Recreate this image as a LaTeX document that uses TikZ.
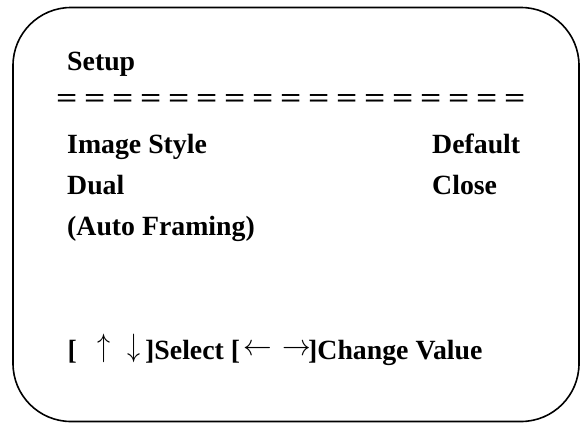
\documentclass[tikz,border=0pt]{standalone}
\usepackage{fontspec}
\usepackage{graphicx}
\setmainfont{Liberation Serif}
\newcommand\EQ{\makebox[28pt][l]{\scalebox{1.35}[1]{=}}}
\newcommand\mathsym[1]{\scalebox{1.05}[1.3]{$#1$}}
\begin{document}
\begin{tikzpicture}[x=1pt,y=-1pt,
  lbl/.style={anchor=base west,inner sep=0pt,font=\fontsize{27.8}{30}\selectfont\bfseries},
  arr/.style={anchor=center,inner sep=0pt,font=\fontsize{24.88}{30}\selectfont},
  frame/.style={draw=black,line width=1.6pt,rounded corners=58pt}]
\useasboundingbox (0,0) rectangle (583,423);
\draw[frame] (13,7.5) rectangle (579,421.5);
\node[lbl] (title) at (67,70.7) {Setup};
\node[lbl] (rule) at (56,107) {\EQ\EQ\EQ\EQ\EQ\EQ\EQ\EQ\EQ\EQ\EQ\EQ\EQ\EQ\EQ\EQ\EQ};
\node[lbl] (img) at (67,153.3) {Image Style};
\node[lbl] (imgv) at (432,153.3) {Default};
\node[lbl] (dual) at (67,194.5) {Dual};
\node[lbl] (dualv) at (432,194.5) {Close};
\node[lbl] (auto) at (67,235.7) {(Auto Framing)};
\node[lbl] (hb1) at (67.5,359) {[};
\node[arr] (up) at (104,348.5) {\mathsym{\uparrow}};
\node[arr] (down) at (134,348.5) {\mathsym{\downarrow}};
\node[lbl] (sel) at (145,359) {]Select [};
\node[arr] (left) at (257.5,350.5) {\scalebox{1.15}[1.2]{$\leftarrow$}};
\node[arr] (right) at (296.5,350.5) {\scalebox{1.15}[1.2]{$\rightarrow$}};
\node[lbl] (chg) at (308,359) {]Change Value};
\end{tikzpicture}
\end{document}
